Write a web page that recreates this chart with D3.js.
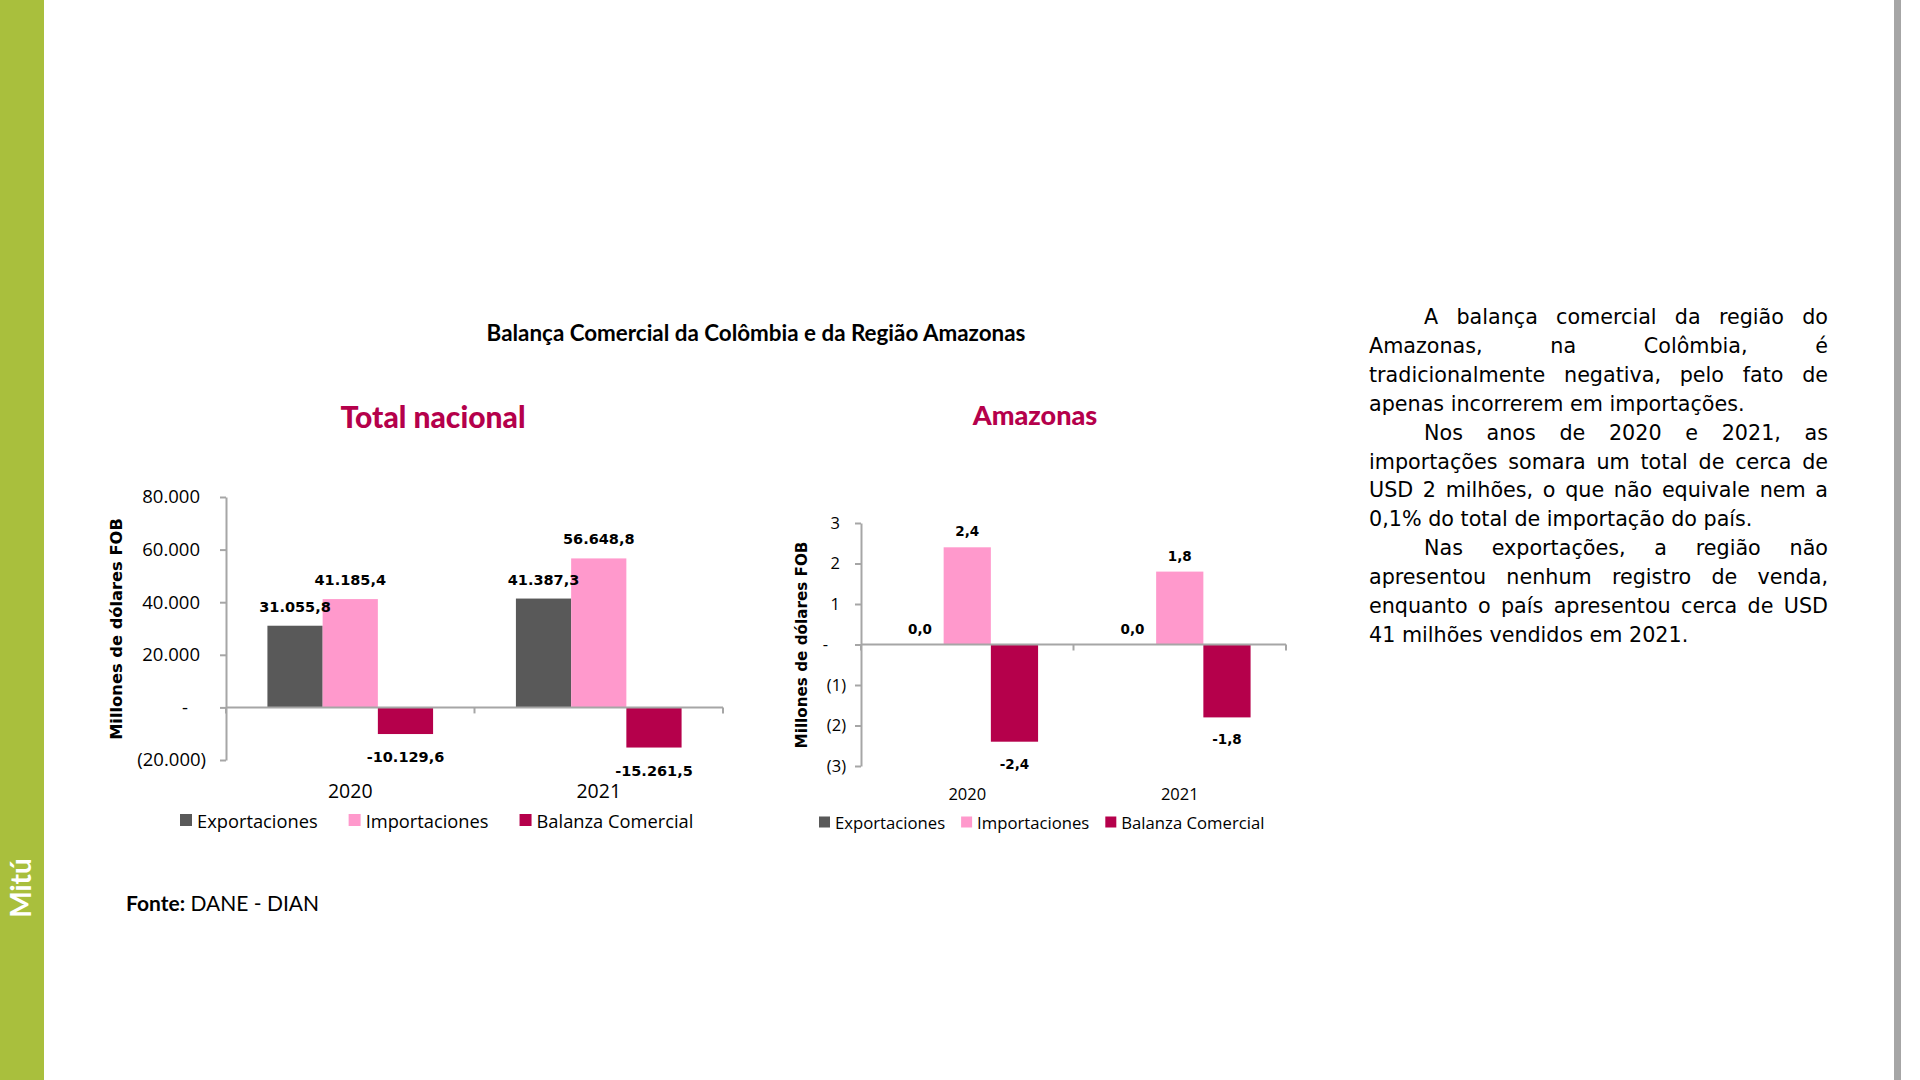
<!DOCTYPE html>
<html>
<head>
<meta charset="utf-8">
<script src="https://cdn.jsdelivr.net/npm/d3@7/dist/d3.min.js"></script>
<style>
  body { margin: 0; background: #fff; }
  svg { display: block; }
</style>
</head>
<body>
<svg id="page" width="1920" height="1080"></svg>
<script>
// ---- data ----
const years = ["2020", "2021"];
const seriesNames = ["Exportaciones", "Importaciones", "Balanza Comercial"];
const seriesColors = ["#595959", "#ff99cc", "#b5004b"];

const nacionalExport = [31055.8, 41387.3];
const nacionalImport = [41185.4, 56648.8];
const nacionalBalanza = [-10129.6, -15261.5];
const nacionalTicks = [-20000, 0, 20000, 40000, 60000, 80000];

const amazonasExport = [0.0, 0.0];
const amazonasImport = [2.4, 1.8];
const amazonasBalanza = [-2.4, -1.8];
const amazonasTicks = [-3, -2, -1, 0, 1, 2, 3];

const paragraphs = [
  ["A balança comercial da região do",
   "Amazonas, na Colômbia, é",
   "tradicionalmente negativa, pelo fato de",
   "apenas incorrerem em importações."],
  ["Nos anos de 2020 e 2021, as",
   "importações somara um total de cerca de",
   "USD 2 milhões, o que não equivale nem a",
   "0,1% do total de importação do país."],
  ["Nas exportações, a região não",
   "apresentou nenhum registro de venda,",
   "enquanto o país apresentou cerca de USD",
   "41 milhões vendidos em 2021."]
];

const locale = d3.formatLocale({decimal: ",", thousands: ".", grouping: [3], currency: ["", ""], minus: "-"});
const fmtTick = locale.format(",.0f");
const fmtLabel = locale.format(",.1f");

const svg = d3.select("#page");
const crimson = "#b5004b";
const axisColor = "#a6a6a6";

// page frame
svg.append("rect").attr("x", 0).attr("y", 0).attr("width", 44).attr("height", 1080).attr("fill", "#a9bf3d");
svg.append("rect").attr("x", 1894).attr("y", 0).attr("width", 7).attr("height", 1080).attr("fill", "#a6a6a6");
svg.append("text")
  .attr("transform", "translate(31,888) rotate(-90)")
  .attr("text-anchor", "middle")
  .attr("font-family", "Lato, sans-serif").attr("font-weight", 700).attr("font-size", 28)
  .attr("fill", "#fff").text("Mitú");

svg.append("text")
  .attr("x", 756).attr("y", 341)
  .attr("text-anchor", "middle")
  .attr("font-family", "Lato, sans-serif").attr("font-weight", 700).attr("font-size", 22.4)
  .attr("fill", "#000").text("Balança Comercial da Colômbia e da Região Amazonas");

const fonte = svg.append("text")
  .attr("x", 126).attr("y", 911)
  .attr("font-family", "Lato, sans-serif").attr("font-size", 21).attr("fill", "#000");
fonte.append("tspan").attr("font-weight", 700).text("Fonte:");
fonte.append("tspan").text(" DANE - DIAN");

function drawChart(c) {
  const g = svg.append("g");
  const x0 = d3.scaleBand().domain(years).range([c.left, c.right]);
  const bw = x0.bandwidth();
  const barW = bw / 4.5;
  const x1 = d3.scaleBand().domain(seriesNames).range([barW * 0.75, bw - barW * 0.75]);
  const y = d3.scaleLinear().domain(c.domain).range([c.bottom, c.top]);

  g.append("text")
    .attr("x", c.titleX).attr("y", c.titleY)
    .attr("text-anchor", "middle")
    .attr("font-family", "Lato, sans-serif").attr("font-weight", 900).attr("font-size", c.titleSize)
    .attr("fill", crimson).text(c.title);

  const rows = years.map((yr, i) => seriesNames.map((s, j) => ({year: yr, series: s, color: seriesColors[j], value: c.values[j][i]}))).flat();

  g.selectAll("rect.bar").data(rows).join("rect")
    .attr("class", "bar")
    .attr("x", d => x0(d.year) + x1(d.series))
    .attr("width", x1.bandwidth())
    .attr("y", d => y(Math.max(0, d.value)))
    .attr("height", d => Math.abs(y(d.value) - y(0)))
    .attr("fill", d => d.color);

  // y axis
  const yAxis = g.append("g")
    .attr("transform", `translate(${c.left},0)`)
    .call(d3.axisLeft(y).tickValues(c.ticks).tickSize(6).tickSizeOuter(0)
      .tickFormat(v => v === 0 ? "-" : v < 0 ? "(" + fmtTick(-v) + ")" : fmtTick(v)));
  yAxis.selectAll("path, line").attr("stroke", axisColor).attr("stroke-width", 2);
  yAxis.selectAll("text")
    .attr("x", v => v === 0 ? -c.tickGap - 12 : v < 0 ? -c.tickGap + 6 : -c.tickGap)
    .attr("font-family", "'Open Sans', sans-serif").attr("font-size", c.tickSize).attr("fill", "#000");

  // x axis at zero
  const xg = g.append("g");
  xg.append("line").attr("x1", c.left).attr("x2", c.right).attr("y1", y(0)).attr("y2", y(0))
    .attr("stroke", axisColor).attr("stroke-width", 2);
  xg.selectAll("line.tick").data(years.map(yr => x0(yr) + bw).concat([c.left])).join("line")
    .attr("class", "tick")
    .attr("x1", d => d).attr("x2", d => d).attr("y1", y(0)).attr("y2", y(0) + 6)
    .attr("stroke", axisColor).attr("stroke-width", 2);
  g.selectAll("text.year").data(years).join("text")
    .attr("class", "year")
    .attr("x", d => x0(d) + bw / 2).attr("y", c.yearY)
    .attr("text-anchor", "middle").attr("dominant-baseline", "central")
    .attr("font-family", "'Open Sans', sans-serif").attr("font-size", c.yearSize).attr("fill", "#000")
    .text(d => d);

  // data labels
  g.selectAll("text.val").data(rows).join("text")
    .attr("class", "val")
    .attr("x", d => x0(d.year) + x1(d.series) + x1.bandwidth() / 2)
    .attr("y", d => d.value < 0 ? y(d.value) + c.below : y(d.value) - c.above)
    .attr("text-anchor", "middle").attr("dominant-baseline", "central")
    .attr("font-family", "'DejaVu Sans', sans-serif").attr("font-weight", 700).attr("font-size", c.labelSize)
    .attr("fill", "#000")
    .text(d => fmtLabel(d.value));

  // y title
  g.append("text")
    .attr("transform", `translate(${c.yTitleX},${c.yTitleY}) rotate(-90)`)
    .attr("text-anchor", "middle").attr("dominant-baseline", "central")
    .attr("font-family", "'DejaVu Sans', sans-serif").attr("font-weight", 700).attr("font-size", c.yTitleSize)
    .attr("fill", "#000").text("Millones de dólares FOB");

  // legend
  let lx = c.legendX;
  seriesNames.forEach((s, j) => {
    g.append("rect").attr("x", lx).attr("y", c.legendY - c.sq / 2).attr("width", c.sq).attr("height", c.sq)
      .attr("fill", seriesColors[j]);
    const t = g.append("text").attr("x", lx + c.sq + 5).attr("y", c.legendY)
      .attr("dominant-baseline", "central")
      .attr("font-family", "'Open Sans', sans-serif").attr("font-size", c.legendSize).attr("fill", "#000")
      .text(s);
    lx += c.sq + 5 + t.node().getComputedTextLength() + c.legendGap;
  });
}

drawChart({
  title: "Total nacional", titleX: 433, titleY: 428, titleSize: 30,
  values: [nacionalExport, nacionalImport, nacionalBalanza],
  left: 226, right: 723, top: 497, bottom: 760, domain: [-20000, 80000], ticks: nacionalTicks,
  tickGap: 26, tickSize: 18.5, yearY: 790, yearSize: 19.5,
  above: 19, below: 23, labelSize: 14.5,
  yTitleX: 116, yTitleY: 629, yTitleSize: 16.3,
  legendX: 180, legendY: 820, sq: 12, legendSize: 18.3, legendGap: 31
});

drawChart({
  title: "Amazonas", titleX: 1035, titleY: 425, titleSize: 27,
  values: [amazonasExport, amazonasImport, amazonasBalanza],
  left: 861, right: 1286, top: 523, bottom: 766, domain: [-3, 3], ticks: amazonasTicks,
  tickGap: 21, tickSize: 16.5, yearY: 793, yearSize: 16.5,
  above: 16, below: 22, labelSize: 13.5,
  yTitleX: 802, yTitleY: 645, yTitleSize: 15.2,
  legendX: 819, legendY: 822, sq: 11, legendSize: 16.7, legendGap: 16
});

// justified paragraph text
const pText = svg.append("g")
  .attr("font-family", "'DejaVu Sans', sans-serif").attr("font-size", 20.7).attr("fill", "#000");
const pLeft = 1369, pRight = 1828, indent = 55, lineH = 28.9;
let lineNo = 0;
paragraphs.forEach(lines => {
  lines.forEach((line, i) => {
    const base = 324 + lineNo * lineH;
    const start = i === 0 ? pLeft + indent : pLeft;
    const words = line.split(" ");
    const nodes = words.map(w => pText.append("text").attr("y", base).text(w));
    const widths = nodes.map(n => n.node().getComputedTextLength());
    const last = i === lines.length - 1;
    const space = last ? 20.7 * 0.318 : (pRight - start - d3.sum(widths)) / (words.length - 1);
    let x = start;
    nodes.forEach((n, k) => { n.attr("x", x); x += widths[k] + space; });
    lineNo++;
  });
});
</script>
</body>
</html>
